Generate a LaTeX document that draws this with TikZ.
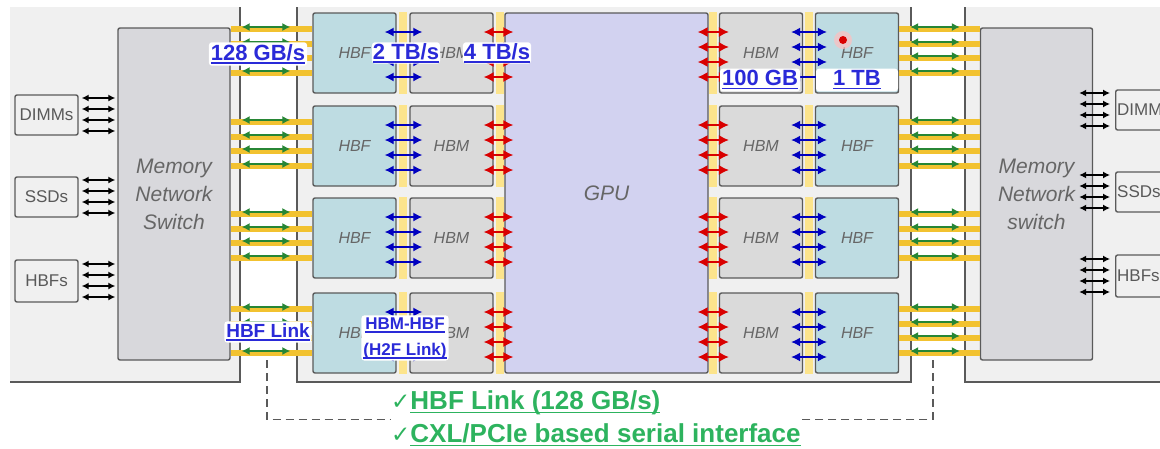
\documentclass[tikz,border=0pt]{standalone}
\usepackage{fontspec}
\setmainfont{Liberation Sans}
\newfontfamily\symfont{DejaVu Sans}
\newcommand{\undl}[1]{\leavevmode\setbox0\hbox{#1}\rlap{\rule[-3.5pt]{\wd0}{1.3pt}}\box0}
\usepackage{tikz}
\usetikzlibrary{arrows.meta, calc}

\definecolor{panel}{HTML}{F0F0F0}
\definecolor{edge}{HTML}{5A5A5A}
\definecolor{hbfcol}{HTML}{BEDCE2}
\definecolor{hbmcol}{HTML}{DADADA}
\definecolor{gpucol}{HTML}{D2D2F0}
\definecolor{swcol}{HTML}{D8D8DC}
\definecolor{gold}{HTML}{F2C230}
\definecolor{paleyel}{HTML}{FCE48C}
\definecolor{lnkgreen}{HTML}{2E9E3E}
\definecolor{lblblue}{HTML}{2A2AD8}
\definecolor{txtgreen}{HTML}{2DB35E}

\tikzset{
  wall/.style = {draw=edge, line width=1.4pt},
  chipbox/.style = {draw=edge, line width=1.4pt, rounded corners=2pt, inner sep=0pt, text=black!60,
    font=\fontsize{16}{18}\selectfont\itshape},
  hbfbox/.style = {chipbox, fill=hbfcol, minimum width=83pt, minimum height=80pt},
  hbmbox/.style = {chipbox, fill=hbmcol, minimum width=83pt, minimum height=80pt},
  gpubox/.style = {chipbox, fill=gpucol, minimum width=203pt, minimum height=360pt,
    font=\fontsize{21}{24}\selectfont\itshape},
  swbox/.style = {chipbox, fill=swcol, minimum width=112pt, minimum height=332pt, align=center,
    font=\fontsize{21}{28}\selectfont\itshape},
  devbox/.style = {draw=edge, line width=1.4pt, rounded corners=2pt, fill=panel, inner sep=1pt,
    minimum width=63pt, minimum height=40pt, text=black!65, font=\fontsize{17}{20}\selectfont},
  goldbar/.style = {draw=gold, line width=6pt},
  garr/.style = {draw=lnkgreen!85!black, line width=1.3pt, {Latex[length=8pt,width=8pt]}-{Latex[length=8pt,width=8pt]}},
  barr/.style = {draw=blue!75!black, line width=1.3pt, {Latex[length=9pt,width=9pt]}-{Latex[length=9pt,width=9pt]}},
  rarr/.style = {draw=red!85!black, line width=1.3pt, {Latex[length=10pt,width=10pt]}-{Latex[length=10pt,width=10pt]}},
  karr/.style = {draw=black, line width=1.3pt, {Latex[length=7pt,width=7pt]}-{Latex[length=7pt,width=7pt]}},
  lbl/.style = {fill=white, rounded corners=3pt, inner sep=2pt, text=lblblue,
    font=\fontsize{22}{26}\selectfont\bfseries},
  chk/.style = {anchor=west, inner sep=1pt, text=txtgreen, font=\fontsize{26}{28}\selectfont\bfseries},
  dashln/.style = {draw=edge, line width=1.4pt, dash pattern=on 8pt off 5pt}
}

\begin{document}
\begin{tikzpicture}[x=1pt, y=-1pt]
\useasboundingbox (0,0) rectangle (1160,448);

% panels
\fill[panel] (10,7) rectangle (240,382);
\fill[panel] (297,7) rectangle (911,382);
\fill[panel] (965,7) rectangle (1160,382);
\draw[wall] (240,7) -- (240,382) -- (10,382);
\draw[wall] (297,7) -- (297,382) -- (911,382) -- (911,7);
\draw[wall] (965,7) -- (965,382) -- (1160,382);

% switches and devices
\node[swbox] (LS) at (174,194) {Memory\\Network\\Switch};
\node[swbox] (RS) at (1036.5,194) {Memory\\Network\\switch};
\node[devbox] (D1) at (46.5,115) {DIMMs};
\node[devbox] (D2) at (46.5,197) {SSDs};
\node[devbox, minimum height=42pt] (D3) at (46.5,281) {HBFs};
\node[devbox, anchor=west, text width=60pt, align=left] (E1) at (1115,110) {DIMMs};
\node[devbox, anchor=west, text width=60pt, align=left] (E2) at (1115,192) {SSDs};
\node[devbox, anchor=west, text width=60pt, align=left, minimum height=42pt] (E3) at (1115,276) {HBFs};

\foreach \k in {1,2,3}{
  \foreach \o in {17,6,-5,-16}{
    \coordinate (p) at ([yshift=\o]D\k.east);
    \draw[karr, shorten <=3pt, shorten >=2pt] (p) -- (LS.west |- p);
    \coordinate (q) at ([yshift=\o]E\k.west);
    \draw[karr, shorten <=-14pt, shorten >=5pt] (RS.east |- q) -- (q);
  }
}

% chips
\node[gpubox] (GPU) at (606.5,193) {GPU};
\foreach \t [count=\i] in {13,106,198,293}{
  \node[hbfbox] (LF\i) at (354.5,\t+40) {HBF};
  \node[hbmbox] (LM\i) at (451.5,\t+40) {HBM};
  \node[hbmbox] (RM\i) at (761,\t+40) {HBM};
  \node[hbfbox] (RF\i) at (857,\t+40) {HBF};
}

% links
\foreach \t [count=\i] in {13,106,198,293}{
  \fill[paleyel] ([xshift=2pt]LF\i.north east) rectangle ([xshift=-2pt]LM\i.south west);
  \fill[paleyel] ([xshift=2pt]LM\i.north east) rectangle ([xshift=10pt]LM\i.south east);
  \fill[paleyel] ([xshift=-10pt]RM\i.north west) rectangle ([xshift=-2pt]RM\i.south west);
  \fill[paleyel] ([xshift=2pt]RM\i.north east) rectangle ([xshift=-2pt]RF\i.south west);
  \foreach \d in {19,34,49,64}{
    \draw[barr, shorten <=-12pt, shorten >=-13pt] (LF\i.east |- 0,\t+\d) -- (LM\i.west |- 0,\t+\d);
    \draw[rarr, shorten <=-10pt, shorten >=-9pt] (LM\i.east |- 0,\t+\d) -- (GPU.west |- 0,\t+\d);
    \draw[rarr, shorten <=-11pt, shorten >=-10pt] (GPU.east |- 0,\t+\d) -- (RM\i.west |- 0,\t+\d);
    \draw[barr, shorten <=-12pt, shorten >=-12pt] (RM\i.east |- 0,\t+\d) -- (RF\i.west |- 0,\t+\d);
  }
  \foreach \g in {14,29,43,58}{
    \draw[goldbar] (LS.east |- 0,\t+\g+2) -- (LF\i.west |- 0,\t+\g+2);
    \draw[garr, shorten <=11pt, shorten >=22pt] (LS.east |- 0,\t+\g) -- (LF\i.west |- 0,\t+\g);
    \draw[goldbar] (RF\i.east |- 0,\t+\g+2) -- (RS.west |- 0,\t+\g+2);
    \draw[garr, shorten <=11pt, shorten >=20pt] (RF\i.east |- 0,\t+\g) -- (RS.west |- 0,\t+\g);
  }
}

% pointer
\fill[red!25, opacity=.7] (843,40) circle (9pt);
\fill[red!85!black] (843,40) circle (4pt);

% labels
\node[lbl] (L128) at (258,54) {\undl{128 GB/s}};
\node[lbl, inner sep=1pt] (L2T) at (406,53) {\undl{2 TB/s}};
\node[lbl, inner sep=1pt] (L4T) at (497,53) {\undl{4 TB/s}};
\node[lbl, minimum width=80pt] (L100) at (760,80) {\undl{100 GB}};
\node[lbl, minimum width=82pt] (L1T) at (857,80) {\undl{1 TB}};
\node[lbl, font=\fontsize{19}{22}\selectfont\bfseries] (LHL) at (268,332) {\undl{HBF Link}};
\node[lbl, align=center, font=\fontsize{17}{26}\selectfont\bfseries] (LH2F) at (405,338) {\undl{HBM-HBF}\\\undl{(H2F Link)}};

% bottom notes
\node[chk] (C1) at (390,403) {{\symfont\fontsize{23}{23}\selectfont ✓}\undl{HBF Link (128 GB/s)}};
\node[chk] (C2) at (390,435) {{\symfont\fontsize{23}{23}\selectfont ✓}\undl{CXL/PCIe based serial interface}};
\coordinate (DL) at (267,360);
\coordinate (DR) at (933,360);
\coordinate (CM) at ($(C1.south west)!.5!(C2.north west)$);
\draw[dashln] (DL) |- (C1.west |- CM);
\draw[dashln] (DR) |- (C2.east |- CM);
\end{tikzpicture}
\end{document}
